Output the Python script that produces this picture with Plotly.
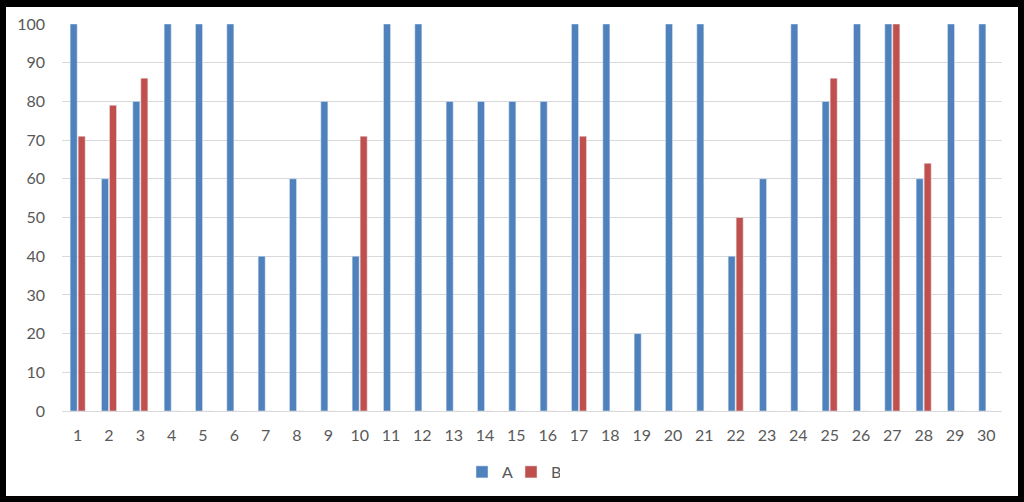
import plotly.graph_objects as go

categories = [str(i) for i in range(1, 31)]
series_a = [100, 60, 80, 100, 100, 100, 40, 60, 80, 40, 100, 100, 80, 80, 80, 80,
            100, 100, 20, 100, 100, 40, 60, 100, 80, 100, 100, 60, 100, 100]
series_b = [71, 79, 86, 0, 0, 0, 0, 0, 0, 71, 0, 0, 0, 0, 0, 0,
            71, 0, 0, 0, 0, 50, 0, 0, 86, 0, 100, 64, 0, 0]
y_ticks = list(range(0, 101, 10))

W, H = 1024, 502
L, R, T, B = 62, 22, 24, 91
pw, ph = W - L - R, H - T - B

def px(x):
    return (x - L) / pw

def py(y):
    return (H - B - y) / ph

fig = go.Figure()
fig.add_trace(go.Bar(name="A", x=categories, y=series_a, marker_color="#4F81BD"))
fig.add_trace(go.Bar(name="B", x=categories, y=series_b, marker_color="#C0504D"))

fig.update_layout(
    width=W, height=H,
    margin=dict(l=L, r=R, t=T, b=B),
    paper_bgcolor="black",
    plot_bgcolor="white",
    barmode="group",
    bargap=0.49,
    bargroupgap=0.12,
    font=dict(family="Lato, Open Sans, sans-serif", size=16, color="#595959"),
    showlegend=True,
    legend=dict(orientation="h", x=px(511), xanchor="center", y=py(472), yanchor="middle",
                bgcolor="white", font=dict(size=16, color="#595959"), itemwidth=30,
                entrywidth=4, entrywidthmode="pixels", tracegroupgap=0),
    shapes=[dict(type="rect", xref="paper", yref="paper",
                 x0=px(6), x1=px(1018), y0=py(496), y1=py(7),
                 fillcolor="white", line=dict(width=0), layer="below")],
)
fig.update_xaxes(type="category", showgrid=False, showline=True, linecolor="#D9D9D9",
                 linewidth=1, ticks="", ticklabelstandoff=10)
fig.update_yaxes(range=[0, 100], tickvals=y_ticks, showgrid=True, gridcolor="#D9D9D9",
                 gridwidth=1, zeroline=False, showline=False, ticks="", ticklabelstandoff=16)

fig.write_html("out.html")
